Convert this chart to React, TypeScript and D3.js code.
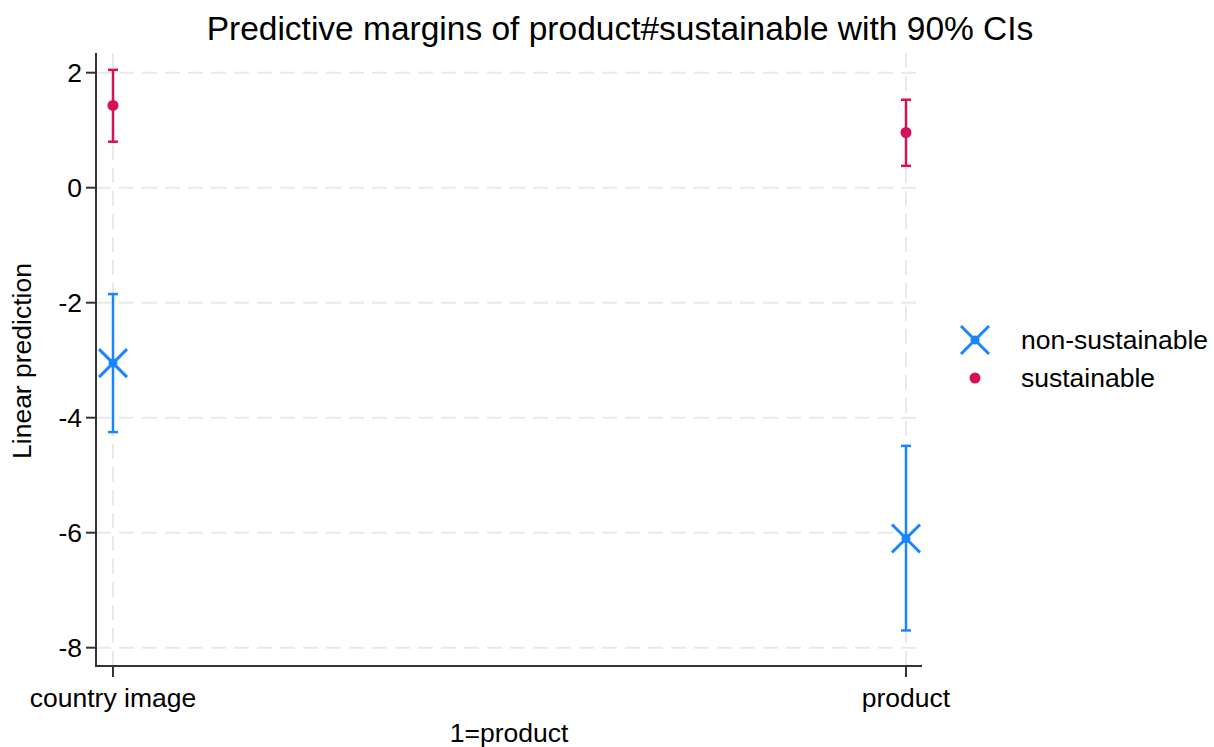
import React from "react";
import * as d3 from "d3";

const categories = ["country image", "product"];
const seriesNames = ["non-sustainable", "sustainable"];
const nonSustMean = [-3.05, -6.1];
const nonSustLow = [-4.25, -7.7];
const nonSustHigh = [-1.85, -4.49];
const sustMean = [1.43, 0.96];
const sustLow = [0.8, 0.38];
const sustHigh = [2.05, 1.53];
const yTicks = [-8, -6, -4, -2, 0, 2];

const W = 1214;
const H = 747;
const BLUE = "#1a85ff";
const RED = "#d41159";
const FONT = "'Liberation Sans', Arial, sans-serif";

export default function App() {
  const left = 96;
  const right = 922;
  const top = 53;
  const bottom = 666;
  const y = d3.scaleLinear().domain([0, 2]).range([187.7, 72.7]);
  const x = d3.scalePoint<string>().domain(categories).range([113, 906]);

  const series = [
    { name: seriesNames[0], color: BLUE, mean: nonSustMean, lo: nonSustLow, hi: nonSustHigh, shape: "x" },
    { name: seriesNames[1], color: RED, mean: sustMean, lo: sustLow, hi: sustHigh, shape: "dot" },
  ];

  const marker = (shape: string, color: string, cx: number, cy: number, key?: string) =>
    shape === "x" ? (
      <g key={key}>
        <line x1={cx - 14} y1={cy - 14} x2={cx + 14} y2={cy + 14} stroke={color} strokeWidth={3} />
        <line x1={cx - 14} y1={cy + 14} x2={cx + 14} y2={cy - 14} stroke={color} strokeWidth={3} />
        <circle cx={cx} cy={cy} r={4.5} fill={color} />
      </g>
    ) : (
      <circle key={key} cx={cx} cy={cy} r={5.5} fill={color} />
    );

  return (
    <svg width={W} height={H} style={{ position: "absolute", left: 0, top: 0, background: "#fff" }} fontFamily={FONT}>
      <rect x={0} y={0} width={W} height={H} fill="#fff" />
      {/* grid */}
      {yTicks.map((t) => (
        <line key={"gy" + t} x1={left} x2={right} y1={y(t)} y2={y(t)} stroke="#e9e9e9" strokeWidth={2} strokeDasharray="15 8" />
      ))}
      {categories.map((c) => (
        <line key={"gx" + c} x1={x(c)} x2={x(c)} y1={top} y2={bottom} stroke="#e9e9e9" strokeWidth={2} strokeDasharray="15 8" />
      ))}
      {/* axes */}
      <line x1={left} x2={left} y1={top} y2={bottom + 1} stroke="#333" strokeWidth={2} />
      <line x1={left - 1} x2={right} y1={bottom} y2={bottom} stroke="#333" strokeWidth={2} />
      {yTicks.map((t) => (
        <g key={"ty" + t}>
          <line x1={left - 10} x2={left} y1={y(t)} y2={y(t)} stroke="#333" strokeWidth={2} />
          <text x={left - 14} y={y(t)} dy="0.36em" textAnchor="end" fontSize={26.5} fill="#000">
            {t < 0 ? "-" + Math.abs(t) : String(t)}
          </text>
        </g>
      ))}
      {categories.map((c) => (
        <g key={"tx" + c}>
          <line x1={x(c)} x2={x(c)} y1={bottom} y2={bottom + 11} stroke="#333" strokeWidth={2} />
          <text x={x(c)} y={707} textAnchor="middle" fontSize={26.5} fill="#000">
            {c}
          </text>
        </g>
      ))}
      {/* CIs and markers */}
      {series.map((s) => (
        <g key={s.name}>
          {categories.map((c, i) => {
            const cx = x(c)!;
            return (
              <g key={c}>
                <line x1={cx} x2={cx} y1={y(s.hi[i])} y2={y(s.lo[i])} stroke={s.color} strokeWidth={2.5} />
                <line x1={cx - 5} x2={cx + 5} y1={y(s.hi[i])} y2={y(s.hi[i])} stroke={s.color} strokeWidth={2.5} />
                <line x1={cx - 5} x2={cx + 5} y1={y(s.lo[i])} y2={y(s.lo[i])} stroke={s.color} strokeWidth={2.5} />
                {marker(s.shape, s.color, cx, y(s.mean[i]))}
              </g>
            );
          })}
        </g>
      ))}
      {/* titles */}
      <text x={620} y={40} textAnchor="middle" fontSize={33.5} fill="#000">
        Predictive margins of product#sustainable with 90% CIs
      </text>
      <text x={509} y={742} textAnchor="middle" fontSize={26.5} fill="#000">
        1=product
      </text>
      <text transform="translate(31,361) rotate(-90)" textAnchor="middle" fontSize={26.5} fill="#000">
        Linear prediction
      </text>
      {/* legend */}
      {series.map((s, i) => (
        <g key={"leg" + s.name}>
          {marker(s.shape, s.color, 975, 340 + i * 38)}
          <text x={1021} y={348.5 + i * 38} fontSize={26.5} fill="#000">
            {s.name}
          </text>
        </g>
      ))}
    </svg>
  );
}
